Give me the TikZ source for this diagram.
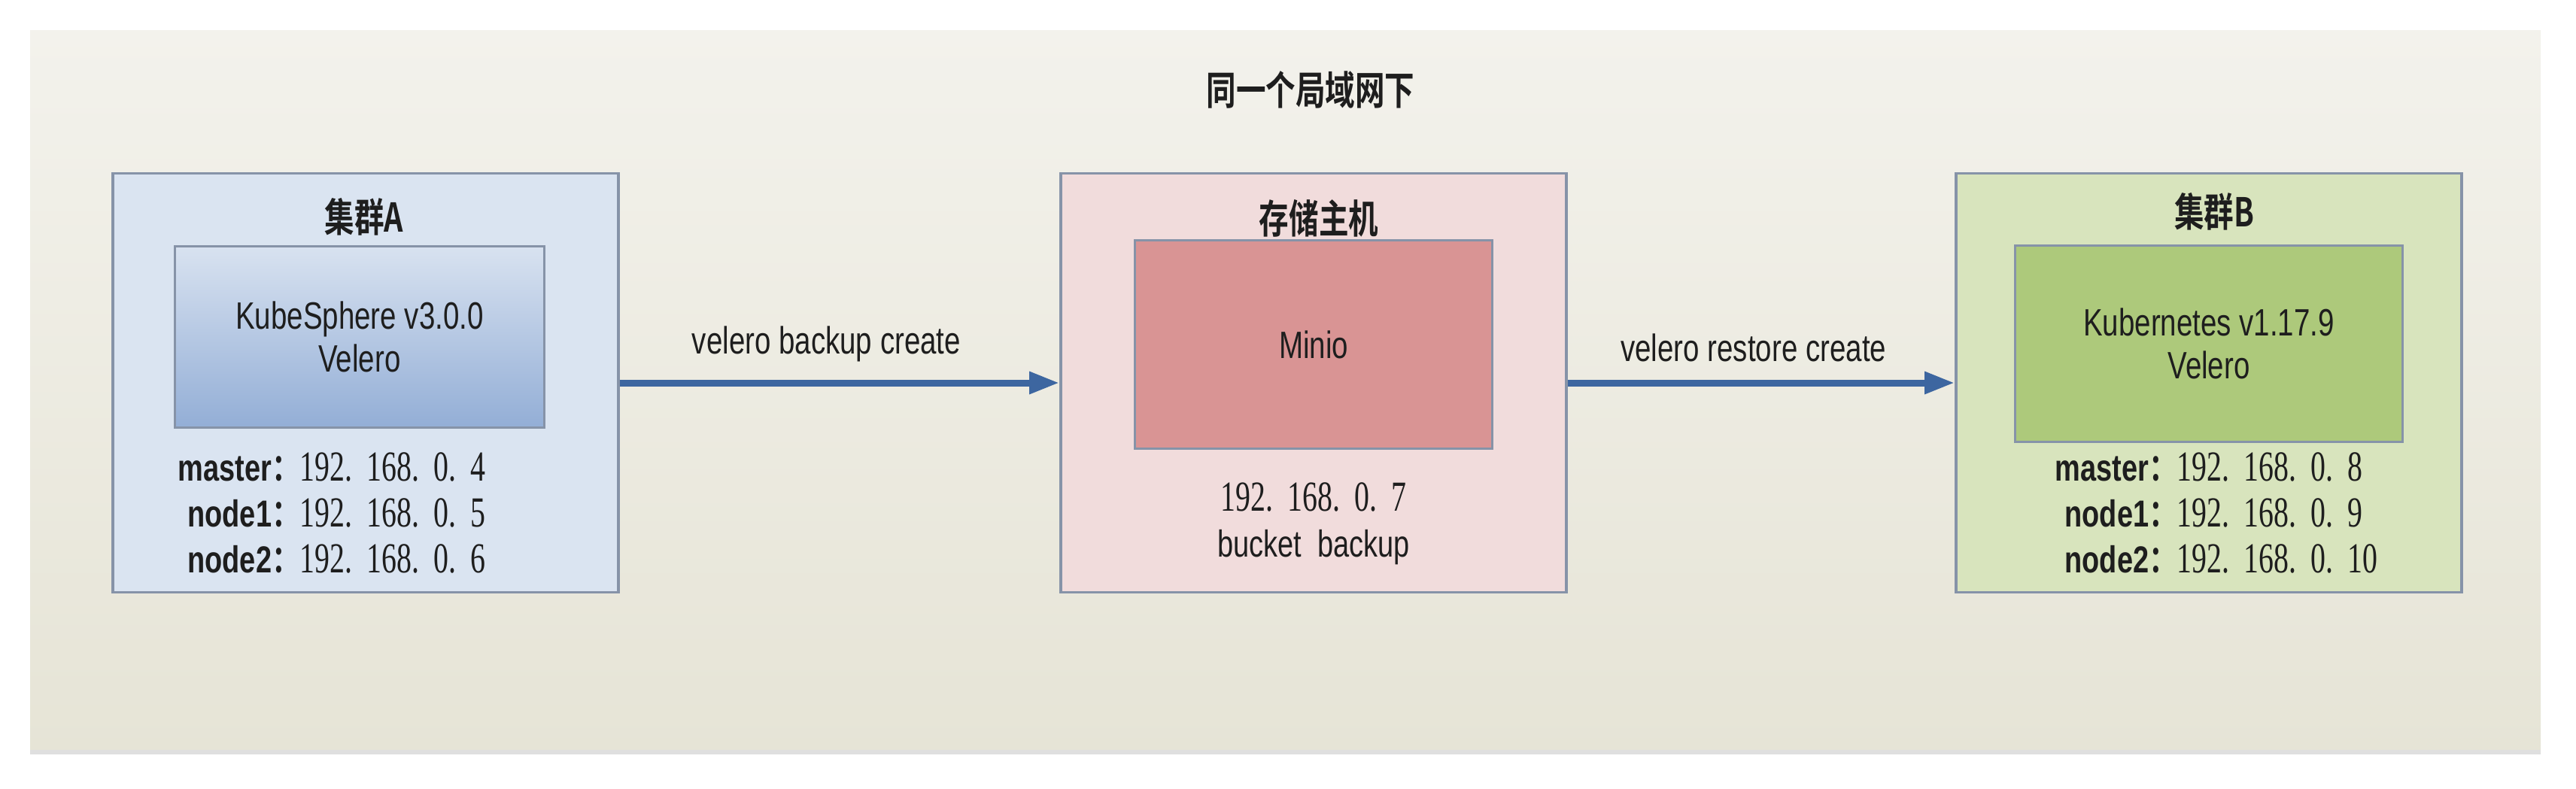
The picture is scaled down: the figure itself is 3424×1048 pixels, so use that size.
\documentclass[tikz,border=0pt]{standalone}
\usepackage{fontspec}
\setmainfont{Liberation Sans}[FakeStretch=0.76]
\newfontfamily\cjk{Noto Sans CJK SC}[FakeStretch=0.75, BoldFont={Noto Sans CJK SC Bold}]
\newfontfamily\ipfont{Liberation Serif}[FakeStretch=0.7, WordSpace=1.6, Scale=1.14]
\usetikzlibrary{positioning, arrows.meta}

\definecolor{panelTop}{HTML}{F3F2EC}
\definecolor{panelBot}{HTML}{E6E4D6}
\definecolor{edgegray}{HTML}{8693A8}
\definecolor{inkgray}{HTML}{1E1E1E}
\definecolor{blueBox}{HTML}{DAE4F1}
\definecolor{blueTop}{HTML}{D8E2F0}
\definecolor{blueBot}{HTML}{93AED6}
\definecolor{redBox}{HTML}{F1DCDC}
\definecolor{redCore}{HTML}{D99494}
\definecolor{greenBox}{HTML}{D8E4BD}
\definecolor{greenCore}{HTML}{ADC97B}
\definecolor{flowblue}{HTML}{3D66A0}

\begin{document}
\begin{tikzpicture}[x=0.01cm, y=-0.01cm,
    txt/.style={font=\fontsize{14.4}{16}\selectfont, text=inkgray},
    cluster/.style={draw=edgegray, line width=0.35mm, inner sep=0pt,
        minimum width=6.72cm, minimum height=5.57cm},
    corebox/.style={draw=edgegray, line width=0.3mm, inner sep=0pt, align=center, txt},
    boxtitle/.style={font=\cjk\bfseries\fontsize{15}{16}\selectfont, text=inkgray},
    iplist/.style={inner sep=0pt, anchor=west, text=inkgray,
        font=\fontsize{14.2}{17.4}\selectfont},
    flow/.style={draw=flowblue, line width=0.9mm, -{Triangle[length=4mm, width=2.8mm]}}]

    % Page and the shaded panel
    \fill[white] (0,0) rectangle (3424,1048);
    \useasboundingbox (0,0) rectangle (3424,1048);
    \shade[top color=panelTop, bottom color=panelBot] (40,40) rectangle (3377,1002);
    \draw[gray!25, line width=0.6mm] (40,1000) -- (3377,1000);

    % Network title
    \node[boxtitle] (lan) at (1742,119) {同一个局域网下};

    % Cluster A
    \node[cluster, fill=blueBox] (clusterA) at (486,509) {};
    \node[boxtitle] (titleA) at (484,288) {集群A};
    \node[corebox, top color=blueTop, bottom color=blueBot,
        minimum width=4.91cm, minimum height=2.41cm] (coreA) at (478,448)
        {KubeSphere v3.0.0\\Velero};
    \node[iplist] (ipsA) at (236,688) {\begin{tabular}{@{}r@{}l@{}}
        \bfseries master{\cjk ：} & \ipfont 192. 168. 0. 4\\
        \bfseries node1{\cjk ：} & \ipfont 192. 168. 0. 5\\
        \bfseries node2{\cjk ：} & \ipfont 192. 168. 0. 6
    \end{tabular}};

    % Storage host
    \node[cluster, fill=redBox] (store) at (1746,509) {};
    \node[boxtitle] (titleM) at (1753,290) {存储主机};
    \node[corebox, fill=redCore, minimum width=4.74cm, minimum height=2.77cm]
        (minio) at (1746,458) {Minio};
    \node[txt, align=center, font=\fontsize{14.2}{17.2}\selectfont] (ipsM) at (1746,696)
        {{\ipfont 192. 168. 0. 7}\\bucket\ \ backup};

    % Cluster B
    \node[cluster, fill=greenBox] (clusterB) at (2936,509) {};
    \node[boxtitle] (titleB) at (2943,281) {集群B};
    \node[corebox, fill=greenCore, minimum width=5.14cm, minimum height=2.60cm]
        (coreB) at (2936,457) {Kubernetes v1.17.9\\Velero};
    \node[iplist] (ipsB) at (2731,688) {\begin{tabular}{@{}r@{}l@{}}
        \bfseries master{\cjk ：} & \ipfont 192. 168. 0. 8\\
        \bfseries node1{\cjk ：} & \ipfont 192. 168. 0. 9\\
        \bfseries node2{\cjk ：} & \ipfont 192. 168. 0. 10
    \end{tabular}};

    % Backup and restore flows
    \draw[flow] (clusterA) -- node[txt, above=1.2mm, pos=0.47] (backup) {velero backup create} (store);
    \draw[flow] (store) -- node[txt, above=1.2mm, pos=0.48] (restore) {velero restore create} (clusterB);
\end{tikzpicture}
\end{document}
